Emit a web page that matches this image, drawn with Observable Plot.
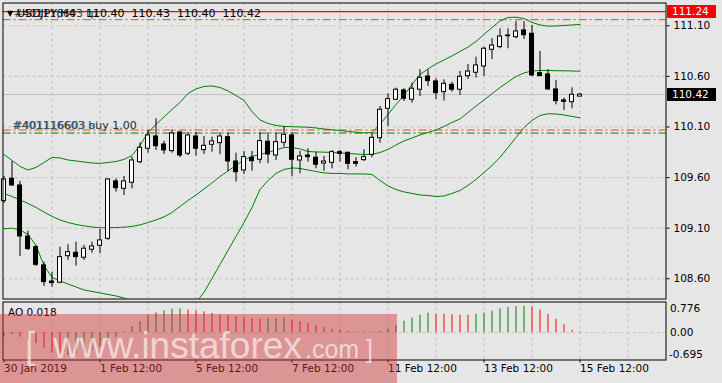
<!DOCTYPE html>
<html>
<head>
<meta charset="utf-8">
<script src="https://cdn.jsdelivr.net/npm/d3@7"></script>
<script src="https://cdn.jsdelivr.net/npm/@observablehq/plot@0.6"></script>
<style>
html, body { margin: 0; padding: 0; background: #e6e6e6; }
#chart { position: relative; width: 722px; height: 383px; overflow: hidden; background: #e6e6e6; font-family: "DejaVu Sans", sans-serif; }
#chart > * { position: absolute; left: 0; }
.pricebox { position: absolute; width: 49px; height: 13px; color: white; font-size: 10.5px; line-height: 13px; padding-left: 0; text-indent: 5.5px; box-sizing: border-box; }
</style>
</head>
<body>
<div id="chart"></div>
<script>
// ---------- data (USDJPY H4) ----------
const opens = [
  109.367, 109.588, 109.522, 109.018, 108.912, 108.732, 108.573, 108.561, 108.823, 108.857,
  108.808, 108.887, 108.926, 108.995, 109.562, 109.489, 109.549, 109.752, 109.885, 110.006,
  109.927, 109.861, 110.046, 109.835, 110.006, 109.871, 109.924, 109.940, 109.999, 109.759,
  109.670, 109.796, 109.776, 109.954, 109.818, 109.944, 110.016, 109.769, 109.818, 109.796,
  109.739, 109.746, 109.851, 109.845, 109.752, 109.772, 109.825, 109.989, 110.280, 110.369,
  110.461, 110.369, 110.468, 110.599, 110.550, 110.444, 110.517, 110.468, 110.602, 110.636,
  110.698, 110.863, 110.889, 110.997, 110.987, 111.054, 111.021, 110.632, 110.619, 110.471,
  110.362, 110.345, 110.40
];
const highs = [
  109.611, 109.759, 109.562, 109.070, 108.929, 108.764, 108.665, 108.912, 108.936, 108.962,
  108.929, 108.962, 109.087, 109.588, 109.588, 109.611, 109.802, 109.944, 110.065, 110.181,
  109.960, 110.072, 110.049, 110.046, 110.046, 110.006, 109.999, 110.043, 110.039, 109.841,
  109.858, 109.858, 110.043, 110.043, 110.039, 110.105, 110.039, 109.858, 109.885, 109.851,
  109.809, 109.868, 109.868, 109.851, 109.796, 109.875, 110.033, 110.303, 110.428, 110.483,
  110.478, 110.533, 110.665, 110.665, 110.576, 110.566, 110.543, 110.648, 110.718, 110.790,
  110.889, 110.972, 111.070, 111.070, 111.142, 111.142, 111.103, 110.846, 110.668, 110.560,
  110.385, 110.487, 110.43
];
const lows = [
  109.344, 109.512, 108.820, 108.880, 108.722, 108.524, 108.517, 108.551, 108.781, 108.725,
  108.781, 108.853, 108.847, 108.979, 109.456, 109.423, 109.489, 109.736, 109.841, 109.868,
  109.828, 109.841, 109.796, 109.818, 109.812, 109.828, 109.851, 109.825, 109.660, 109.555,
  109.631, 109.663, 109.736, 109.736, 109.769, 109.900, 109.611, 109.638, 109.752, 109.687,
  109.663, 109.687, 109.752, 109.677, 109.703, 109.759, 109.796, 109.940, 110.105, 110.362,
  110.352, 110.335, 110.401, 110.500, 110.372, 110.355, 110.444, 110.411, 110.569, 110.582,
  110.599, 110.767, 110.873, 110.873, 110.972, 110.965, 110.599, 110.599, 110.461, 110.319,
  110.263, 110.280, 110.40
];
const closes = [
  109.581, 109.522, 109.018, 108.893, 108.738, 108.567, 108.557, 108.814, 108.863, 108.814,
  108.897, 108.919, 108.979, 109.581, 109.495, 109.562, 109.769, 109.895, 110.016, 109.910,
  109.868, 110.036, 109.818, 110.016, 109.885, 109.914, 109.957, 110.006, 109.759, 109.653,
  109.802, 109.762, 109.960, 109.828, 109.950, 110.023, 109.776, 109.809, 109.802, 109.727,
  109.759, 109.851, 109.835, 109.736, 109.736, 109.802, 109.993, 110.270, 110.375, 110.468,
  110.379, 110.478, 110.586, 110.553, 110.434, 110.527, 110.468, 110.596, 110.648, 110.708,
  110.873, 110.905, 110.994, 111.004, 111.044, 111.007, 110.609, 110.602, 110.471, 110.355,
  110.349, 110.418, 110.42
];
const bbUpper = [
  109.828, 109.769, 109.710, 109.675, 109.700, 109.749, 109.799, 109.794, 109.774, 109.764,
  109.754, 109.744, 109.740, 109.749, 109.759, 109.779, 109.818, 109.917, 110.046, 110.125,
  110.199, 110.273, 110.342, 110.431, 110.476, 110.500, 110.505, 110.490, 110.456, 110.411,
  110.362, 110.253, 110.169, 110.135, 110.115, 110.105, 110.103, 110.100, 110.098, 110.090,
  110.080, 110.072, 110.065, 110.056, 110.048, 110.041, 110.046, 110.125, 110.224, 110.322,
  110.411, 110.520, 110.619, 110.673, 110.723, 110.762, 110.802, 110.846, 110.889, 110.945,
  111.014, 111.083, 111.147, 111.182, 111.185, 111.172, 111.133, 111.108, 111.096, 111.098,
  111.103, 111.108, 111.113
];
const bbMiddle = [
  109.443, 109.413, 109.379, 109.344, 109.305, 109.260, 109.216, 109.181, 109.156, 109.137,
  109.122, 109.112, 109.104, 109.104, 109.107, 109.110, 109.117, 109.132, 109.156, 109.181,
  109.211, 109.255, 109.314, 109.374, 109.428, 109.487, 109.547, 109.611, 109.665, 109.720,
  109.774, 109.809, 109.828, 109.848, 109.873, 109.897, 109.897, 109.883, 109.858, 109.853,
  109.851, 109.848, 109.843, 109.838, 109.833, 109.828, 109.828, 109.848, 109.878, 109.922,
  109.962, 109.991, 110.021, 110.046, 110.070, 110.105, 110.145, 110.179, 110.243, 110.306,
  110.367, 110.429, 110.490, 110.545, 110.599, 110.634, 110.653, 110.658, 110.658, 110.656,
  110.655, 110.653, 110.651
];
const bbLower = [
  109.094, 109.100, 109.082, 109.038, 108.929, 108.732, 108.613, 108.578, 108.549, 108.519,
  108.489, 108.475, 108.460, 108.445, 108.430, 108.410, 108.386, 108.356, 108.326, 108.307,
  108.297, 108.297, 108.307, 108.326, 108.366, 108.465, 108.603, 108.741, 108.880, 109.018,
  109.156, 109.305, 109.482, 109.571, 109.641, 109.680, 109.695, 109.690, 109.675, 109.660,
  109.646, 109.641, 109.641, 109.636, 109.636, 109.636, 109.631, 109.571, 109.517, 109.482,
  109.458, 109.443, 109.428, 109.423, 109.413, 109.418, 109.443, 109.473, 109.522, 109.581,
  109.650, 109.720, 109.799, 109.897, 109.996, 110.095, 110.164, 110.214, 110.230, 110.228,
  110.219, 110.204, 110.191
];
const aoValues = [
  -0.11, -0.05, -0.11, -0.20, -0.28, -0.41, -0.52, -0.59, -0.58, -0.55,
  -0.52, -0.45, -0.37, -0.25, -0.12, 0.02, 0.145, 0.272, 0.442, 0.502,
  0.553, 0.595, 0.604, 0.570, 0.553, 0.527, 0.485, 0.451, 0.425, 0.400,
  0.383, 0.357, 0.340, 0.349, 0.357, 0.366, 0.315, 0.272, 0.230, 0.187,
  0.128, 0.085, 0.060, 0.034, 0.017, 0.006, 0.010, 0.025, 0.085, 0.187,
  0.289, 0.366, 0.442, 0.493, 0.468, 0.466, 0.451, 0.442, 0.440, 0.468,
  0.493, 0.544, 0.604, 0.638, 0.655, 0.672, 0.655, 0.570, 0.459, 0.340,
  0.196, 0.060, 0.018
];
const priceTicks = [108.60, 109.10, 109.60, 110.10, 110.60, 111.10];
const gridBars = [6, 12, 18, 24, 30, 36, 42, 48, 54, 60, 66, 72, 78];
const xTickBars = [0, 12, 24, 36, 48, 60, 72];
const xTickLabels = ["30 Jan 2019", "1 Feb 12:00", "5 Feb 12:00", "7 Feb 12:00", "11 Feb 12:00", "13 Feb 12:00", "15 Feb 12:00"];
const aoTicks = [0.776, 0, -0.695];
const aoTickLabels = ["0.776", "0.00", "-0.695"];
const symbolTitle = "USDJPY,H4";
const orderId = "#401116603";
const tpLevel = 111.16, slLevel = 110.07, buyLevel = 110.04, alertLevel = 111.24;
const buyText = "buy 1.00";

// ---------- build ----------
const last = opens.length - 1;
const bidPrice = closes[last];
const bars = d3.range(opens.length);
const candles = bars.map(k => ({k, open: opens[k], high: highs[k], low: lows[k], close: closes[k]}));
const bands = bars.map(k => ({k, upper: bbUpper[k], middle: bbMiddle[k], lower: bbLower[k]}));
const aoData = bars.map(k => ({k, ao: aoValues[k], up: k === 0 || aoValues[k] > aoValues[k - 1]}));

const xDomain = [-0.125, 82.75];
const FONT = "DejaVu Sans, sans-serif";
const GRID = "#c3c3c3";
const DASHDOT = "8,3,2,3";
const baseStyle = {background: "transparent", fontFamily: FONT, fontSize: "10.5px", color: "black", overflow: "visible"};

const main = Plot.plot({
  width: 722, height: 300,
  marginLeft: 2.5, marginRight: 56.5, marginTop: 2.5, marginBottom: 1.5,
  x: {domain: xDomain, axis: null},
  y: {domain: [108.400, 111.325]},
  style: baseStyle,
  marks: [
    Plot.ruleY(priceTicks, {stroke: GRID, strokeDasharray: "3,3"}),
    Plot.ruleX(gridBars, {stroke: GRID, strokeDasharray: "3,3"}),
    Plot.ruleY([bidPrice], {stroke: "#c0c0c0"}),
    Plot.ruleY([tpLevel, slLevel], {stroke: "#ff4500", strokeDasharray: DASHDOT}),
    Plot.ruleY([buyLevel], {stroke: "#008000", strokeDasharray: DASHDOT}),
    Plot.ruleY([alertLevel], {stroke: "#ff0000", strokeWidth: 1.3}),
    Plot.line(bands, {x: "k", y: "upper", stroke: "#008000", strokeWidth: 1, clip: true}),
    Plot.line(bands, {x: "k", y: "middle", stroke: "#008000", strokeWidth: 1, clip: true}),
    Plot.line(bands, {x: "k", y: "lower", stroke: "#008000", strokeWidth: 1, clip: true}),
    Plot.ruleX(candles, {x: "k", y1: "low", y2: "high", stroke: "black"}),
    Plot.rect(candles.filter(d => d.close >= d.open), {x1: d => d.k - 0.25, x2: d => d.k + 0.25, y1: "open", y2: "close", fill: "white", stroke: "black"}),
    Plot.rect(candles.filter(d => d.close < d.open), {x1: d => d.k - 0.25, x2: d => d.k + 0.25, y1: "open", y2: "close", fill: "black", stroke: "black"}),
    Plot.axisY(priceTicks, {anchor: "right", tickSize: 3, tickPadding: 4.5, tickFormat: d => d.toFixed(2), label: null, fontSize: 10.5}),
    Plot.frame({stroke: "black"}),
    // title
    Plot.text(["\u25BC"], {frameAnchor: "top-left", dx: 4, dy: 10, lineAnchor: "middle", textAnchor: "start", fontSize: 8, fill: "black"}),
    Plot.text([orderId + " tp"], {frameAnchor: "top-left", dx: 11, dy: 10.3, lineAnchor: "middle", textAnchor: "start", fontSize: 10.5, fill: "#3a3a3a"}),
    Plot.text([symbolTitle], {frameAnchor: "top-left", dx: 14, dy: 10.3, lineAnchor: "middle", textAnchor: "start", fontSize: 11, fill: "black"}),
    Plot.text([[opens[last], highs[last], lows[last], closes[last]].map(v => v.toFixed(2)).join("\u00a0\u00a0")],
      {frameAnchor: "top-left", dx: 83, dy: 10.3, lineAnchor: "middle", textAnchor: "start", fontSize: 11, fill: "black"}),
    // order labels
    Plot.text([slLevel], {y: d => d, text: () => orderId + " " + buyText, frameAnchor: "left", dx: 9.5, dy: -5, lineAnchor: "middle", textAnchor: "start", fontSize: 11, fill: "#2a2a2a"}),
    Plot.text([slLevel], {y: d => d, text: () => orderId + " sl", frameAnchor: "left", dx: 10.5, dy: -5, lineAnchor: "middle", textAnchor: "start", fontSize: 11, fill: "#3d6470", fillOpacity: 0.85})
  ]
});
main.style.top = "0px";

const aoPlot = Plot.plot({
  width: 722, height: 83,
  marginLeft: 2.5, marginRight: 56.5, marginTop: 1.5, marginBottom: 23.5,
  x: {domain: xDomain, label: null},
  y: {domain: [-0.695, 0.776], axis: null},
  style: baseStyle,
  marks: [
    Plot.ruleX(gridBars, {stroke: GRID, strokeDasharray: "3,3"}),
    Plot.ruleY([0], {stroke: GRID, strokeDasharray: "3,3"}),
    Plot.ruleX(aoData.filter(d => d.up), {x: "k", y1: 0, y2: "ao", stroke: "#008000"}),
    Plot.ruleX(aoData.filter(d => !d.up), {x: "k", y1: 0, y2: "ao", stroke: "#ff0000"}),
    Plot.frame({stroke: "black"}),
    Plot.axisX(xTickBars, {anchor: "bottom", tickSize: 3, tickPadding: 2, textAnchor: "start", label: null, fontSize: 10.5,
      tickFormat: d => xTickLabels[xTickBars.indexOf(d)]}),
    Plot.text([aoTicks[0]], {y: d => d, text: () => aoTickLabels[0], frameAnchor: "right", dx: 4, dy: 3, lineAnchor: "top", textAnchor: "start", fontSize: 10.5, fill: "black"}),
    Plot.text([aoTicks[1]], {y: d => d, text: () => aoTickLabels[1], frameAnchor: "right", dx: 4, lineAnchor: "middle", textAnchor: "start", fontSize: 10.5, fill: "black"}),
    Plot.text([aoTicks[2]], {y: d => d, text: () => aoTickLabels[2], frameAnchor: "right", dx: 3, dy: -2.5, lineAnchor: "bottom", textAnchor: "start", fontSize: 10.5, fill: "black"}),
    Plot.text(["AO " + aoValues[last].toFixed(3)], {frameAnchor: "top-left", dx: 5, dy: 11, lineAnchor: "middle", textAnchor: "start", fontSize: 10.5, fill: "black"})
  ]
});
aoPlot.style.top = "300px";

const chart = document.getElementById("chart");
chart.appendChild(main);
chart.appendChild(aoPlot);

// price boxes on the right scale
const yMain = main.scale("y");
function priceBox(value, bg) {
  const div = document.createElement("div");
  div.className = "pricebox";
  div.style.left = "666.5px";
  div.style.top = (yMain.apply(value) - 6.5) + "px";
  div.style.background = bg;
  div.textContent = value.toFixed(2);
  chart.appendChild(div);
}
priceBox(alertLevel, "#ff0000");
priceBox(bidPrice, "#000000");

// watermark
const ns = "http://www.w3.org/2000/svg";
const wm = document.createElementNS(ns, "svg");
wm.setAttribute("width", 722);
wm.setAttribute("height", 383);
wm.style.top = "0px";
wm.style.pointerEvents = "none";
wm.innerHTML = `
  <rect x="0" y="314" width="397" height="69" fill="rgb(208,52,52)" fill-opacity="0.45"></rect>
  <g font-family="Liberation Sans, Arial, sans-serif" fill="white" fill-opacity="0.62">
    <text x="25" y="358" font-size="37">[</text>
    <text x="53" y="358" font-size="37">www.instaforex</text>
    <text x="305" y="358" font-size="25">.com</text>
    <text x="366" y="358" font-size="25">]</text>
  </g>`;
chart.appendChild(wm);
</script>
</body>
</html>
